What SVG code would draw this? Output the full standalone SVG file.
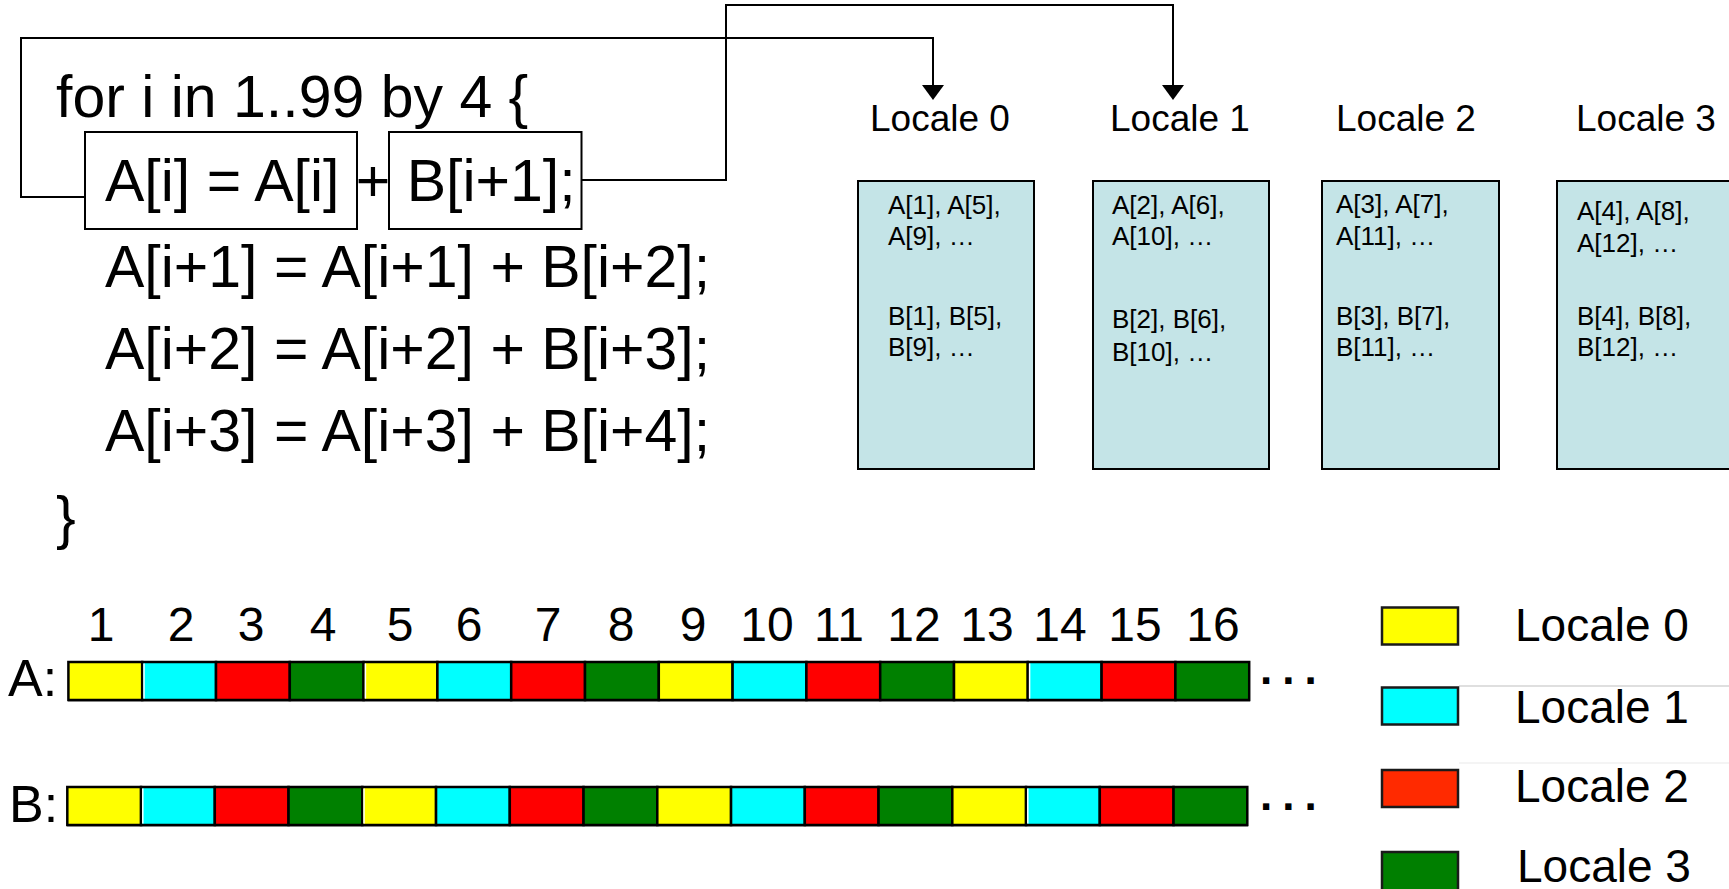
<svg xmlns="http://www.w3.org/2000/svg" width="1729" height="889" viewBox="0 0 1729 889">
  <defs>
    <style>
      text { font-family: "Liberation Sans", Arial, sans-serif; fill: #000; }
      .code { font-size: 59px; }
      .hdr { font-size: 37px; text-anchor: middle; }
      .small { font-size: 26px; }
      .idx { font-size: 48px; text-anchor: middle; }
      .row { font-size: 52px; }
      .dots { font-size: 44px; font-weight: bold; letter-spacing: 10px; }
      .leg { font-size: 46px; }
      .frame { fill: none; stroke: #000; stroke-width: 2; }
      .wire { fill: none; stroke: #000; stroke-width: 2; }
      .store { fill: #C4E4E7; stroke: #000; stroke-width: 2; }
      .cell { stroke: #000; stroke-width: 2.5; }
      .c0 { fill: #FFFF00; }
      .c1 { fill: #00FFFF; }
      .c2 { fill: #FF0000; }
      .c3 { fill: #008000; }
      .glint { stroke: #fff; stroke-width: 1.5; }
      .shade { stroke: #b0b0b0; stroke-width: 1; }
      .key { stroke: #1a1a1a; stroke-width: 2.5; }
    </style>
    <marker id="arrow" markerWidth="15" markerHeight="22" refX="1" refY="11" orient="auto" markerUnits="userSpaceOnUse">
      <path d="M0,0 L15,11 L0,22 z" fill="#000"/>
    </marker>
  </defs>

  <!-- loop body source -->
  <g id="code">
    <text class="code" x="56" y="117">for i in 1..99 by 4 {</text>
    <text class="code" x="105" y="201">A[i] = A[i] + B[i+1];</text>
    <text class="code" x="105" y="287">A[i+1] = A[i+1] + B[i+2];</text>
    <text class="code" x="105" y="369">A[i+2] = A[i+2] + B[i+3];</text>
    <text class="code" x="105" y="451">A[i+3] = A[i+3] + B[i+4];</text>
    <text class="code" x="56" y="538">}</text>
  </g>
  <g id="ref-a">
    <rect class="frame" x="85" y="132" width="272" height="97"/>
  </g>
  <g id="ref-b">
    <rect class="frame" x="389" y="132" width="192.5" height="97"/>
  </g>

  <!-- links from the highlighted operands to their owning locales -->
  <g id="connectors">
    <path class="wire" d="M85,197 H21 V38 H933 V86" marker-end="url(#arrow)"/>
    <path class="wire" d="M581.5,180 H726 V5 H1173 V86" marker-end="url(#arrow)"/>
  </g>

  <!-- locale memories -->
  <g id="locale-0">
    <text class="hdr" x="940" y="131">Locale 0</text>
    <rect class="store" x="858" y="181" width="176" height="288"/>
    <text class="small" x="888" y="214">A[1], A[5],</text>
    <text class="small" x="888" y="245">A[9], …</text>
    <text class="small" x="888" y="325">B[1], B[5],</text>
    <text class="small" x="888" y="356">B[9], …</text>
  </g>
  <g id="locale-1">
    <text class="hdr" x="1180" y="131">Locale 1</text>
    <rect class="store" x="1093" y="181" width="176" height="288"/>
    <text class="small" x="1112" y="214">A[2], A[6],</text>
    <text class="small" x="1112" y="245">A[10], …</text>
    <text class="small" x="1112" y="328">B[2], B[6],</text>
    <text class="small" x="1112" y="361">B[10], …</text>
  </g>
  <g id="locale-2">
    <text class="hdr" x="1406" y="131">Locale 2</text>
    <rect class="store" x="1322" y="181" width="177" height="288"/>
    <text class="small" x="1336" y="213">A[3], A[7],</text>
    <text class="small" x="1336" y="245">A[11], …</text>
    <text class="small" x="1336" y="325">B[3], B[7],</text>
    <text class="small" x="1336" y="356">B[11], …</text>
  </g>
  <g id="locale-3">
    <text class="hdr" x="1646" y="131">Locale 3</text>
    <rect class="store" x="1557" y="181" width="177" height="288"/>
    <text class="small" x="1577" y="220">A[4], A[8],</text>
    <text class="small" x="1577" y="252">A[12], …</text>
    <text class="small" x="1577" y="325">B[4], B[8],</text>
    <text class="small" x="1577" y="356">B[12], …</text>
  </g>

  <!-- index labels -->
  <g id="indices">
    <text class="idx" x="101" y="641">1</text>
    <text class="idx" x="181" y="641">2</text>
    <text class="idx" x="251" y="641">3</text>
    <text class="idx" x="323" y="641">4</text>
    <text class="idx" x="400" y="641">5</text>
    <text class="idx" x="469" y="641">6</text>
    <text class="idx" x="548" y="641">7</text>
    <text class="idx" x="621" y="641">8</text>
    <text class="idx" x="693" y="641">9</text>
    <text class="idx" x="767" y="641">10</text>
    <text class="idx" x="839" y="641">11</text>
    <text class="idx" x="914" y="641">12</text>
    <text class="idx" x="987" y="641">13</text>
    <text class="idx" x="1060" y="641">14</text>
    <text class="idx" x="1135" y="641">15</text>
    <text class="idx" x="1213" y="641">16</text>
  </g>

  <!-- array A, cyclically distributed -->
  <g id="array-a">
    <text class="row" x="8" y="696">A:</text>
    <line class="shade" x1="68" y1="701.5" x2="1250" y2="701.5"/>
    <rect class="cell c0" x="68.4" y="662" width="73.8" height="38"/>
    <rect class="cell c1" x="142.2" y="662" width="73.8" height="38"/>
    <rect class="cell c2" x="216" y="662" width="73.8" height="38"/>
    <rect class="cell c3" x="289.8" y="662" width="73.8" height="38"/>
    <rect class="cell c0" x="363.6" y="662" width="73.8" height="38"/>
    <rect class="cell c1" x="437.4" y="662" width="73.8" height="38"/>
    <rect class="cell c2" x="511.2" y="662" width="73.8" height="38"/>
    <rect class="cell c3" x="585" y="662" width="73.8" height="38"/>
    <rect class="cell c0" x="658.8" y="662" width="73.8" height="38"/>
    <rect class="cell c1" x="732.6" y="662" width="73.8" height="38"/>
    <rect class="cell c2" x="806.4" y="662" width="73.8" height="38"/>
    <rect class="cell c3" x="880.2" y="662" width="73.8" height="38"/>
    <rect class="cell c0" x="954" y="662" width="73.8" height="38"/>
    <rect class="cell c1" x="1027.8" y="662" width="73.8" height="38"/>
    <rect class="cell c2" x="1101.6" y="662" width="73.8" height="38"/>
    <rect class="cell c3" x="1175.4" y="662" width="73.8" height="38"/>
    <line class="glint" x1="144" y1="663.5" x2="144" y2="698.5"/>
    <line class="glint" x1="365.4" y1="663.5" x2="365.4" y2="698.5"/>
    <line class="glint" x1="1029.6" y1="663.5" x2="1029.6" y2="698.5"/>
    <text class="dots" x="1260" y="683.5">...</text>
  </g>

  <!-- array B, same distribution -->
  <g id="array-b">
    <text class="row" x="9" y="822">B:</text>
    <line class="shade" x1="67" y1="826.5" x2="1248" y2="826.5"/>
    <rect class="cell c0" x="67.3" y="787" width="73.75" height="38"/>
    <rect class="cell c1" x="141.05" y="787" width="73.75" height="38"/>
    <rect class="cell c2" x="214.8" y="787" width="73.75" height="38"/>
    <rect class="cell c3" x="288.55" y="787" width="73.75" height="38"/>
    <rect class="cell c0" x="362.3" y="787" width="73.75" height="38"/>
    <rect class="cell c1" x="436.05" y="787" width="73.75" height="38"/>
    <rect class="cell c2" x="509.8" y="787" width="73.75" height="38"/>
    <rect class="cell c3" x="583.55" y="787" width="73.75" height="38"/>
    <rect class="cell c0" x="657.3" y="787" width="73.75" height="38"/>
    <rect class="cell c1" x="731.05" y="787" width="73.75" height="38"/>
    <rect class="cell c2" x="804.8" y="787" width="73.75" height="38"/>
    <rect class="cell c3" x="878.55" y="787" width="73.75" height="38"/>
    <rect class="cell c0" x="952.3" y="787" width="73.75" height="38"/>
    <rect class="cell c1" x="1026.05" y="787" width="73.75" height="38"/>
    <rect class="cell c2" x="1099.8" y="787" width="73.75" height="38"/>
    <rect class="cell c3" x="1173.55" y="787" width="73.75" height="38"/>
    <line class="glint" x1="142.8" y1="788.5" x2="142.8" y2="823.5"/>
    <line class="glint" x1="364" y1="788.5" x2="364" y2="823.5"/>
    <line class="glint" x1="1027.8" y1="788.5" x2="1027.8" y2="823.5"/>
    <text class="dots" x="1260" y="810">...</text>
  </g>

  <!-- colour key -->
  <g id="legend">
    <line x1="1459" y1="686" x2="1729" y2="686" stroke="#d4d4d4" stroke-width="1.5"/>
    <line x1="1459" y1="763" x2="1729" y2="763" stroke="#f0f0f0" stroke-width="1.5"/>
    <rect class="key" x="1382" y="607.5" width="76" height="37" fill="#FFFF00"/>
    <text class="leg" x="1515" y="641">Locale 0</text>
    <rect class="key" x="1382" y="687.5" width="76" height="37" fill="#00FFFF"/>
    <text class="leg" x="1515" y="723">Locale 1</text>
    <rect class="key" x="1382" y="770" width="76" height="37" fill="#FF2A00"/>
    <text class="leg" x="1515" y="802">Locale 2</text>
    <rect class="key" x="1382" y="852" width="76" height="40" fill="#007F00"/>
    <text class="leg" x="1517" y="882">Locale 3</text>
  </g>
</svg>
